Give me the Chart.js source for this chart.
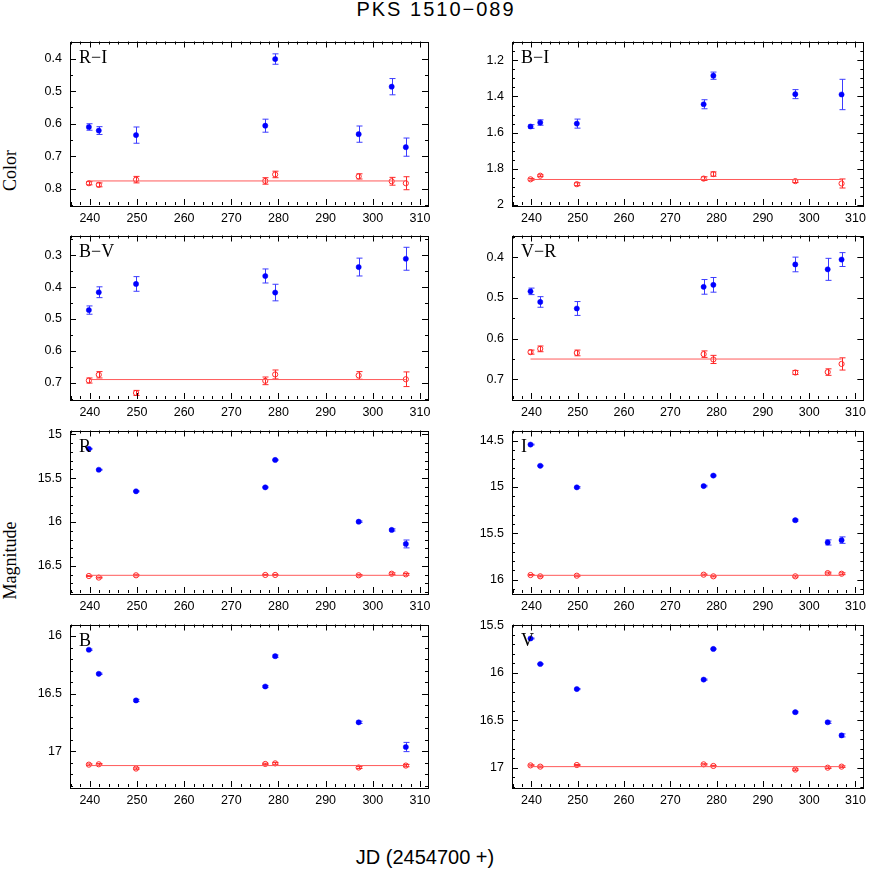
<!DOCTYPE html>
<html>
<head>
<meta charset="utf-8">
<script src="https://cdn.jsdelivr.net/npm/chart.js@4.4.0/dist/chart.umd.min.js"></script>
<style>
body { margin: 0; background: #fff; }
#wrap { position: relative; width: 872px; height: 872px; overflow: hidden; background: #fff; }
canvas { position: absolute; }
.t { position: absolute; color: #000; white-space: nowrap; }
#title { left: 0; width: 872px; top: -2px; text-align: center; font: 20px "Liberation Sans", sans-serif; letter-spacing: 2px; }
#xlab { left: 0; width: 850px; top: 846px; text-align: center; font: 20px "Liberation Sans", sans-serif; }
.ylab { font: 18px "Liberation Serif", serif; transform: rotate(-90deg); transform-origin: center; width: 120px; text-align: center; }
</style>
</head>
<body>
<div id="wrap">
  <div class="t" id="title">PKS 1510−089</div>
  <div class="t ylab" style="left:-50px; top:160px;">Color</div>
  <div class="t ylab" style="left:-50px; top:550px;">Magnitude</div>
  <div class="t" id="xlab">JD (2454700 +)</div>
  <canvas id="c_ri"></canvas>
  <canvas id="c_bi"></canvas>
  <canvas id="c_bv"></canvas>
  <canvas id="c_vr"></canvas>
  <canvas id="c_r"></canvas>
  <canvas id="c_i"></canvas>
  <canvas id="c_b"></canvas>
  <canvas id="c_v"></canvas>
</div>
<script>
// observation dates, JD - 2454700
const jd = [239.8, 241.9, 249.8, 277.2, 279.3, 297.0, 304.0, 307.0];
const xTicks = [240, 250, 260, 270, 280, 290, 300, 310];

// R-I
const riBlz = [0.610, 0.621, 0.635, 0.606, 0.401, 0.632, 0.486, 0.672];
const riBlzErr = [0.010, 0.012, 0.025, 0.020, 0.016, 0.025, 0.025, 0.028];
const riStar = [0.783, 0.788, 0.772, 0.776, 0.756, 0.762, 0.777, 0.783];
const riStarErr = [0.005, 0.006, 0.010, 0.010, 0.010, 0.008, 0.012, 0.020];
const riMean = 0.776;
const riTicks = [0.4, 0.5, 0.6, 0.7, 0.8];

// B-I
const biBlz = [1.566, 1.544, 1.550, 1.443, 1.285, 1.387, null, 1.389];
const biBlzErr = [0.010, 0.015, 0.025, 0.025, 0.020, 0.025, null, 0.084];
const biStar = [1.858, 1.838, 1.885, 1.854, 1.829, 1.868, null, 1.881];
const biStarErr = [0.005, 0.005, 0.008, 0.010, 0.012, 0.008, null, 0.025];
const biMean = 1.859;
const biTicks = [1.2, 1.4, 1.6, 1.8, 2];

// B-V
const bvBlz = [0.472, 0.416, 0.390, 0.365, 0.417, 0.337, null, 0.311];
const bvBlzErr = [0.013, 0.017, 0.023, 0.022, 0.026, 0.028, null, 0.036];
const bvStar = [0.693, 0.675, 0.732, 0.694, 0.674, 0.677, null, 0.689];
const bvStarErr = [0.008, 0.010, 0.008, 0.012, 0.014, 0.012, null, 0.023];
const bvMean = 0.690;
const bvTicks = [0.3, 0.4, 0.5, 0.6, 0.7];

// V-R
const vrBlz = [0.484, 0.510, 0.526, 0.473, 0.468, 0.418, 0.430, 0.406];
const vrBlzErr = [0.008, 0.013, 0.017, 0.018, 0.018, 0.018, 0.027, 0.017];
const vrStar = [0.633, 0.625, 0.635, 0.638, 0.651, 0.683, 0.682, 0.662];
const vrStarErr = [0.005, 0.007, 0.007, 0.008, 0.010, 0.005, 0.008, 0.015];
const vrMean = 0.650;
const vrTicks = [0.4, 0.5, 0.6, 0.7];

// R
const rBlz = [15.164, 15.403, 15.649, 15.604, 15.291, 15.996, 16.090, 16.250];
const rBlzErr = [0.005, 0.005, 0.006, 0.006, 0.006, 0.008, 0.012, 0.045];
const rStar = [16.616, 16.634, 16.608, 16.604, 16.604, 16.608, 16.590, 16.597];
const rStarErr = [0.005, 0.005, 0.006, 0.006, 0.006, 0.008, 0.010, 0.010];
const rMean = 16.608;
const rTicks = [15, 15.5, 16, 16.5];

// I
const iBlz = [14.542, 14.771, 15.004, 14.990, 14.877, 15.359, 15.599, 15.574];
const iBlzErr = [0.005, 0.005, 0.008, 0.008, 0.006, 0.010, 0.028, 0.035];
const iStar = [15.951, 15.965, 15.958, 15.947, 15.965, 15.965, 15.930, 15.937];
const iStarErr = [0.006, 0.006, 0.006, 0.006, 0.006, 0.008, 0.010, 0.010];
const iMean = 15.954;
const iTicks = [14.5, 15, 15.5, 16];

// B
const bBlz = [16.119, 16.328, 16.559, 16.438, 16.175, 16.749, null, 16.963];
const bBlzErr = [0.006, 0.006, 0.010, 0.008, 0.010, 0.010, null, 0.040];
const bStar = [17.116, 17.113, 17.150, 17.110, 17.105, 17.141, null, 17.124];
const bStarErr = [0.006, 0.006, 0.006, 0.006, 0.008, 0.008, null, 0.010];
const bMean = 17.124;
const bTicks = [16, 16.5, 17];

// V
const vBlz = [15.640, 15.908, 16.171, 16.072, 15.750, 16.414, 16.520, 16.658];
const vBlzErr = [0.005, 0.005, 0.006, 0.006, 0.006, 0.008, 0.012, 0.016];
const vStar = [16.973, 16.986, 16.969, 16.962, 16.979, 17.017, 16.997, 16.986];
const vStarErr = [0.006, 0.006, 0.006, 0.006, 0.006, 0.008, 0.008, 0.008];
const vMean = 16.986;
const vTicks = [15.5, 16, 16.5, 17];

const BLUE = 'rgb(0, 0, 255)';
const BLUE_ERR = 'rgb(60, 60, 255)';
const RED = 'rgb(255, 40, 40)';
const RED_LINE = 'rgb(255, 90, 90)';

// frame, inward ticks on all four sides, and the panel name
const frameTicks = {
  id: 'frameTicks',
  afterDraw(chart, args, opts) {
    const {ctx, chartArea: a, scales: {x, y}} = chart;
    ctx.save();
    ctx.strokeStyle = '#000';
    ctx.lineWidth = 1;
    ctx.strokeRect(Math.round(a.left) + 0.5, Math.round(a.top) + 0.5,
      Math.round(a.right - a.left), Math.round(a.bottom - a.top));
    ctx.beginPath();
    const x0 = Math.ceil(x.min / opts.xMinor);
    for (let k = x0; k * opts.xMinor <= x.max; k++) {
      const v = k * opts.xMinor;
      const big = Math.abs(v / opts.xMajor - Math.round(v / opts.xMajor)) < 1e-6;
      const len = big ? 6 : 3;
      const px = Math.round(x.getPixelForValue(v)) + 0.5;
      ctx.moveTo(px, a.bottom); ctx.lineTo(px, a.bottom - len);
      ctx.moveTo(px, a.top); ctx.lineTo(px, a.top + len);
    }
    const y0 = Math.ceil(y.min / opts.yMinor - 1e-6);
    for (let k = y0; k * opts.yMinor <= y.max + 1e-9; k++) {
      const v = k * opts.yMinor;
      const big = Math.abs(v / opts.yMajor - Math.round(v / opts.yMajor)) < 1e-6;
      const len = big ? 6 : 3;
      const py = Math.round(y.getPixelForValue(v)) + 0.5;
      ctx.moveTo(a.left, py); ctx.lineTo(a.left + len, py);
      ctx.moveTo(a.right, py); ctx.lineTo(a.right - len, py);
    }
    ctx.stroke();
    ctx.fillStyle = '#000';
    ctx.font = '18px "Liberation Serif", serif';
    ctx.textBaseline = 'alphabetic';
    ctx.fillText(opts.label, a.left + 9, a.top + 21);
    ctx.restore();
  }
};

// vertical error bars with caps, drawn through the scales
const errorBars = {
  id: 'errorBars',
  beforeDatasetsDraw(chart) {
    const {ctx, chartArea: a, scales: {y}} = chart;
    ctx.save();
    ctx.beginPath();
    ctx.rect(a.left, a.top, a.right - a.left, a.bottom - a.top);
    ctx.clip();
    chart.data.datasets.forEach((ds, i) => {
      if (!ds.errs) return;
      const meta = chart.getDatasetMeta(i);
      ctx.strokeStyle = ds.errColor;
      ctx.lineWidth = 1;
      ctx.beginPath();
      meta.data.forEach((pt, j) => {
        const e = ds.errs[j];
        const v = ds.data[j].y;
        const px = Math.round(pt.x) + 0.5;
        const y1 = y.getPixelForValue(v - e);
        const y2 = y.getPixelForValue(v + e);
        ctx.moveTo(px, y1); ctx.lineTo(px, y2);
        ctx.moveTo(px - 3, y1); ctx.lineTo(px + 3, y1);
        ctx.moveTo(px - 3, y2); ctx.lineTo(px + 3, y2);
      });
      ctx.stroke();
    });
    ctx.restore();
  }
};

function pts(vals) {
  const out = [];
  vals.forEach((v, i) => { if (v !== null) out.push({x: jd[i], y: v}); });
  return out;
}
function errs(vals, e) {
  return e.filter((v, i) => vals[i] !== null);
}

function makePanel(id, col, row, label, blz, blzErr, star, starErr, mean, yMin, yMax, yTicks, yMajor, yMinor) {
  const chartLeft = [70, 512][col];
  const chartRight = [428, 868][col];
  const canvasLeft = [0, 440][col];
  const canvasWidth = [440, 432][col];
  const chartTop = [38, 232, 427, 621][row];
  const chartBottom = [205, 399, 593, 787][row];
  const padTop = 12, xAxisH = 28;
  const cv = document.getElementById(id);
  cv.width = canvasWidth;
  cv.height = chartBottom - chartTop + padTop + xAxisH;
  cv.style.left = canvasLeft + 'px';
  cv.style.top = (chartTop - padTop) + 'px';

  const last = jd.length - 1;
  return new Chart(cv.getContext('2d'), {
    type: 'scatter',
    data: {
      datasets: [
        {
          label: 'mean',
          data: [{x: jd[0], y: mean}, {x: jd[last], y: mean}],
          showLine: true,
          borderColor: RED_LINE,
          borderWidth: 1,
          pointRadius: 0
        },
        {
          label: 'comparison',
          data: pts(star),
          errs: errs(star, starErr),
          errColor: RED,
          pointStyle: 'circle',
          pointRadius: 2.6,
          backgroundColor: 'rgba(255,255,255,0)',
          borderColor: RED,
          borderWidth: 1
        },
        {
          label: 'blazar',
          data: pts(blz),
          errs: errs(blz, blzErr),
          errColor: BLUE_ERR,
          pointStyle: 'circle',
          pointRadius: 2.6,
          backgroundColor: BLUE,
          borderColor: BLUE,
          borderWidth: 0.5
        }
      ]
    },
    options: {
      responsive: false,
      animation: false,
      events: [],
      layout: { padding: { top: padTop, right: canvasWidth - (chartRight - canvasLeft), left: 0, bottom: 0 } },
      plugins: {
        legend: { display: false },
        tooltip: { enabled: false },
        frameTicks: { label: label, xMajor: 10, xMinor: 2, yMajor: yMajor, yMinor: yMinor }
      },
      scales: {
        x: {
          type: 'linear',
          min: 235.8,
          max: 311.7,
          grid: { display: false, drawTicks: false },
          border: { display: false },
          afterBuildTicks: (s) => { s.ticks = xTicks.map(v => ({value: v})); },
          afterFit: (s) => { s.height = xAxisH; },
          ticks: {
            padding: 6,
            maxRotation: 0,
            color: '#000',
            font: { family: '"Liberation Sans", sans-serif', size: 12.5 }
          }
        },
        y: {
          type: 'linear',
          reverse: true,
          min: yMin,
          max: yMax,
          grid: { display: false, drawTicks: false },
          border: { display: false },
          afterBuildTicks: (s) => { s.ticks = yTicks.map(v => ({value: v})); },
          afterFit: (s) => { s.width = chartLeft - canvasLeft; },
          ticks: {
            padding: 8,
            color: '#000',
            font: { family: '"Liberation Sans", sans-serif', size: 12.5 },
            callback: (v) => String(Math.round(v * 100) / 100)
          }
        }
      }
    },
    plugins: [errorBars, frameTicks]
  });
}

makePanel('c_ri', 0, 0, 'R−I', riBlz, riBlzErr, riStar, riStarErr, riMean, 0.347, 0.85, riTicks, 0.1, 0.05);
makePanel('c_bi', 1, 0, 'B−I', biBlz, biBlzErr, biStar, biStarErr, biMean, 1.096, 2.0, biTicks, 0.2, 0.05);
makePanel('c_bv', 0, 1, 'B−V', bvBlz, bvBlzErr, bvStar, bvStarErr, bvMean, 0.238, 0.751, bvTicks, 0.1, 0.05);
makePanel('c_vr', 1, 1, 'V−R', vrBlz, vrBlzErr, vrStar, vrStarErr, vrMean, 0.347, 0.748, vrTicks, 0.1, 0.05);
makePanel('c_r', 0, 2, 'R', rBlz, rBlzErr, rStar, rStarErr, rMean, 14.955, 16.81, rTicks, 0.5, 0.1);
makePanel('c_i', 1, 2, 'I', iBlz, iBlzErr, iStar, iStarErr, iMean, 14.39, 16.145, iTicks, 0.5, 0.1);
makePanel('c_b', 0, 3, 'B', bBlz, bBlzErr, bStar, bStarErr, bMean, 15.9, 17.31, bTicks, 0.5, 0.1);
makePanel('c_v', 1, 3, 'V', vBlz, vBlzErr, vStar, vStarErr, vMean, 15.493, 17.2, vTicks, 0.5, 0.1);
</script>
</body>
</html>
